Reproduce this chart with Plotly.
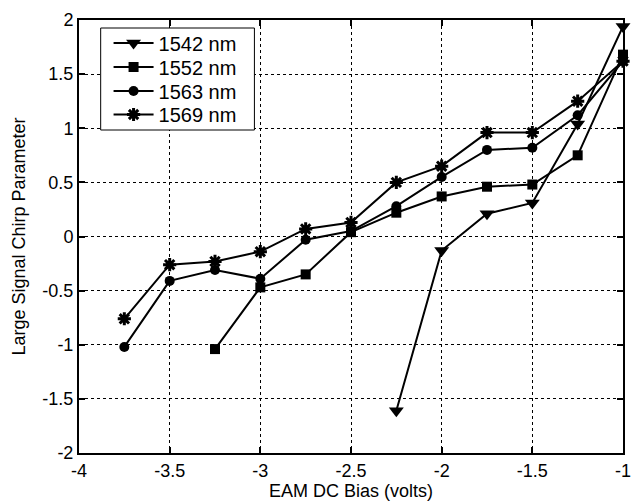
import plotly.graph_objects as go

bias_1542 = [-2.25, -2.0, -1.75, -1.5, -1.25, -1.0]
chirp_1542 = [-1.61, -0.13, 0.21, 0.31, 1.04, 1.94]

bias_1552 = [-3.25, -3.0, -2.75, -2.5, -2.25, -2.0, -1.75, -1.5, -1.25, -1.0]
chirp_1552 = [-1.04, -0.47, -0.35, 0.04, 0.22, 0.37, 0.46, 0.48, 0.75, 1.68]

bias_1563 = [-3.75, -3.5, -3.25, -3.0, -2.75, -2.5, -2.25, -2.0, -1.75, -1.5, -1.25, -1.0]
chirp_1563 = [-1.02, -0.41, -0.31, -0.39, -0.03, 0.05, 0.28, 0.55, 0.80, 0.82, 1.12, 1.62]

bias_1569 = [-3.75, -3.5, -3.25, -3.0, -2.75, -2.5, -2.25, -2.0, -1.75, -1.5, -1.25, -1.0]
chirp_1569 = [-0.76, -0.26, -0.23, -0.14, 0.07, 0.13, 0.50, 0.65, 0.96, 0.96, 1.25, 1.62]

x_ticks = [-4, -3.5, -3, -2.5, -2, -1.5, -1]
x_tick_text = ["-4", "-3.5", "-3", "-2.5", "-2", "-1.5", "-1"]
y_ticks = [-2, -1.5, -1, -0.5, 0, 0.5, 1, 1.5, 2]
y_tick_text = ["-2", "-1.5", "-1", "-0.5", "0", "0.5", "1", "1.5", "2"]

series = [
    ("1542 nm", bias_1542, chirp_1542, dict(symbol="triangle-down", size=13)),
    ("1552 nm", bias_1552, chirp_1552, dict(symbol="square", size=10)),
    ("1563 nm", bias_1563, chirp_1563, dict(symbol="circle", size=10)),
    ("1569 nm", bias_1569, chirp_1569, dict(symbol="asterisk-open", size=11,
                                            line=dict(color="black", width=3))),
]

font_family = "Liberation Sans, Arial, sans-serif"

# plot-area geometry (pixels) used for placing the legend
L, T, W, H = 79, 20, 552, 433
def px_x(p):
    return (p - L) / W
def px_y(p):
    return 1 - (p - T) / H

legend_centers_px = [43, 67, 91, 114.5]

fig = go.Figure()
layout_legends = {}
for i, (name, x, y, mk) in enumerate(series):
    lg = "legend" if i == 0 else f"legend{i + 1}"
    fig.add_trace(go.Scatter(
        x=x, y=y, name=name, mode="lines+markers",
        line=dict(color="black", width=2),
        marker=dict(color="black", **mk),
        cliponaxis=False, legend=lg,
    ))
    layout_legends[lg] = dict(
        x=px_x(109), y=px_y(legend_centers_px[i]), xanchor="left", yanchor="middle",
        bgcolor="rgba(0,0,0,0)", borderwidth=0,
        font=dict(family=font_family, size=20, color="black"),
        itemwidth=40,
    )

axis_common = dict(
    showline=True, linecolor="black", linewidth=2, mirror="ticks",
    ticks="inside", ticklen=6, tickcolor="black", tickwidth=1.5,
    showgrid=True, gridcolor="black", griddash="dot", gridwidth=1.2,
    zeroline=False,
    tickfont=dict(family=font_family, size=18, color="black"),
    ticklabeloverflow="allow",
)

fig.update_layout(
    width=635, height=502,
    margin=dict(l=L, r=635 - L - W, t=T, b=502 - T - H),
    paper_bgcolor="white", plot_bgcolor="white",
    font=dict(family=font_family, color="black"),
    showlegend=True,
    xaxis=dict(
        range=[-4, -1], tickmode="array",
        tickvals=x_ticks, ticktext=x_tick_text,
        title=dict(text="EAM DC Bias (volts)", font=dict(size=18, family=font_family), standoff=2),
        **axis_common,
    ),
    yaxis=dict(
        range=[-2, 2], tickmode="array",
        tickvals=y_ticks, ticktext=y_tick_text,
        title=dict(text="Large Signal Chirp Parameter", font=dict(size=18, family=font_family), standoff=12),
        **axis_common,
    ),
    shapes=[dict(
        type="rect", xref="paper", yref="paper", layer="above",
        x0=px_x(101), x1=px_x(257), y0=px_y(130), y1=px_y(28),
        fillcolor="white", line=dict(color="black", width=1),
    )],
    **layout_legends,
)

fig.write_html("out.html")
